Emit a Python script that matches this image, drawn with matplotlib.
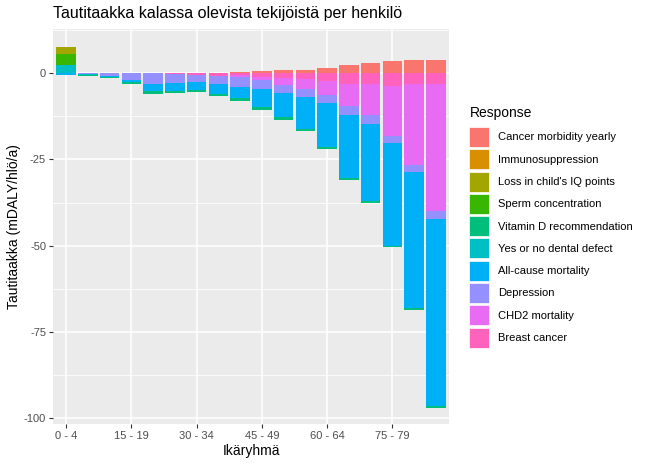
import matplotlib.pyplot as plt
import numpy as np
from matplotlib.patches import Patch
from matplotlib.ticker import MultipleLocator

plt.rcParams['font.family'] = ['Liberation Sans', 'DejaVu Sans']
plt.rcParams['axes.unicode_minus'] = False

age_groups = ["0 - 4", "5 - 9", "10 - 14", "15 - 19", "20 - 24", "25 - 29",
              "30 - 34", "35 - 39", "40 - 44", "45 - 49", "50 - 54", "55 - 59",
              "60 - 64", "65 - 69", "70 - 74", "75 - 79", "80 - 84", "85+"]

responses = ["Cancer morbidity yearly", "Immunosuppression", "Loss in child's IQ points",
             "Sperm concentration", "Vitamin D recommendation", "Yes or no dental defect",
             "All-cause mortality", "Depression", "CHD2 mortality", "Breast cancer"]

# mDALY/hlö/a per age group
cancer_morbidity = [0, 0, 0, 0, 0, 0, 0, 0.1, 0.3, 0.6, 0.8, 1.0, 1.4, 2.5, 3.0, 3.5, 3.8, 3.8]
immunosuppression = [0] * 18
iq_loss = [2.1] + [0] * 17
sperm = [3.1] + [0] * 17
vitamin_d = [0, -0.3, -0.2, -0.3, -0.7, -0.7, -0.7, -0.6, -0.8, -0.8, -0.7, -0.6,
             -0.5, -0.7, -0.6, -0.5, -0.6, -0.6]
dental = [2.45, -0.35] + [0] * 16
all_cause = [-0.45, 0, -0.3, -0.8, -2.2, -2.15, -2.3, -2.7, -3.3, -5.2, -7.1, -9.4,
             -12.7, -18.3, -22.5, -29.7, -39.4, -54.2]
depression = [0, -0.15, -0.8, -1.9, -3.1, -2.8, -2.1, -2.3, -2.9, -2.5, -2.3, -2.3,
              -2.4, -2.6, -2.4, -2.0, -2.0, -2.15]
chd2 = [0, 0, 0, 0, 0, 0, 0, 0, -0.5, -1.1, -1.95, -2.7, -4.0, -6.3, -9.0, -14.6, -23.4, -37.0]
breast = [0, 0, 0, 0, 0, -0.1, -0.5, -0.9, -0.6, -1.0, -1.4, -1.8, -2.3, -3.2, -3.2, -3.7, -3.2, -3.0]

series = [cancer_morbidity, immunosuppression, iq_loss, sperm, vitamin_d,
          dental, all_cause, depression, chd2, breast]
colors = ["#F8766D", "#D89000", "#A3A500", "#39B600", "#00BF7D",
          "#00BFC4", "#00B0F6", "#9590FF", "#E76BF3", "#FF62BC"]

fig = plt.figure(figsize=(6.5, 4.65), dpi=100)
ax = fig.add_axes([53 / 650, 1 - 424 / 465, 396 / 650, 395 / 465])
ax.set_facecolor("#EBEBEB")

x = np.arange(len(age_groups))
pos = np.zeros(len(x))
neg = np.zeros(len(x))
# ggplot stacks: last level closest to zero
for vals, col in zip(series[::-1], colors[::-1]):
    v = np.array(vals, dtype=float)
    p = np.where(v > 0, v, 0)
    n = np.where(v < 0, v, 0)
    ax.bar(x, p, 0.9, bottom=pos, color=col, linewidth=0)
    ax.bar(x, n, 0.9, bottom=neg, color=col, linewidth=0)
    pos += p
    neg += n

ax.set_xlim(-0.6, len(x) - 0.4)
ax.set_ylim(-101.7, 12.8)
ax.set_yticks([0, -25, -50, -75, -100])
ax.yaxis.set_minor_locator(MultipleLocator(12.5))
tick_idx = list(range(0, len(x), 3))
ax.set_xticks(tick_idx)
ax.set_xticklabels([age_groups[i] for i in tick_idx])

ax.grid(which='major', color='white', linewidth=1.1)
ax.grid(which='minor', axis='y', color='white', linewidth=0.55)
ax.set_axisbelow(True)
for s in ax.spines.values():
    s.set_visible(False)
ax.tick_params(which='major', length=3, color='#333333', labelcolor='#4D4D4D', labelsize=8, pad=2)
ax.tick_params(which='minor', length=0)

ax.set_xlabel("Ikäryhmä", fontsize=10, labelpad=2)
ax.set_ylabel("Tautitaakka (mDALY/hlö/a)", fontsize=10, labelpad=2)
ax.set_title("Tautitaakka kalassa olevista tekijöistä per henkilö", loc='left', fontsize=11.5, pad=8)

# legend
fig.text(470 / 650, 1 - 113 / 465, "Response", fontsize=10, ha='left', va='center')
handles = [Patch(facecolor=c, edgecolor='white', linewidth=0.5) for c in colors]
leg = fig.legend(handles, responses, loc='upper left', bbox_to_anchor=(469 / 650, 1 - 127 / 465),
                 frameon=False, fontsize=8,
                 handlelength=1.8, handleheight=2.4, labelspacing=0.2, handletextpad=0.8,
                 borderpad=0, borderaxespad=0)

plt.savefig("out.png", dpi=100)
